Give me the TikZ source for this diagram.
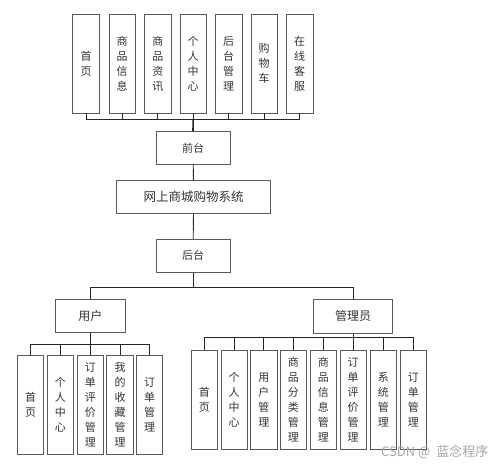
\documentclass[tikz,border=0pt]{standalone}
\usepackage{fontspec}
\newfontfamily\cjk{Noto Sans CJK SC}
\begin{document}
\begin{tikzpicture}[x=1pt,y=-1pt,
  every node/.style={font=\cjk\fontsize{11}{15}\selectfont, text=black!80},
  box/.style={draw=black!65, line width=0.9pt, inner sep=0pt},
  vbox/.style={box, minimum width=26.5pt, minimum height=99pt, align=center},
  hbox/.style={box, minimum width=74pt, minimum height=33pt},
  link/.style={draw=black!85, line width=0.9pt}
]
\useasboundingbox (0,0) rectangle (499,464);
% top row
\node[vbox] (t1) at (86,63.5) {首\\页};
\node[vbox] (t2) at (122.2,63.5) {商\\品\\信\\息};
\node[vbox] (t3) at (157.8,63.5) {商\\品\\资\\讯};
\node[vbox] (t4) at (193.2,63.5) {个\\人\\中\\心};
\node[vbox] (t5) at (228.7,63.5) {后\\台\\管\\理};
\node[vbox] (t6) at (264.2,63.5) {购\\物\\车};
\node[vbox] (t7) at (299.7,63.5) {在\\线\\客\\服};
\node[hbox] (qt) at (193,148) {前台};
\node[box, minimum width=154pt, minimum height=32.6pt, font=\cjk\fontsize{12.5}{15}\selectfont] (sys) at (193.7,197) {网上商城购物系统};
\node[hbox] (ht) at (193,255.7) {后台};
\node[box, minimum width=69.3pt, minimum height=33.4pt, font=\cjk\fontsize{12}{15}\selectfont] (yh) at (90.3,316) {用户};
\node[box, minimum width=79.4pt, minimum height=34pt, font=\cjk\fontsize{12}{15}\selectfont] (gly) at (353,316.3) {管理员};
% user children
\node[vbox] (u1) at (30.5,404.5) {首\\页};
\node[vbox] (u2) at (60.3,404.5) {个\\人\\中\\心};
\node[vbox] (u3) at (90.3,404.5) {订\\单\\评\\价\\管\\理};
\node[vbox] (u4) at (120,404.5) {我\\的\\收\\藏\\管\\理};
\node[vbox] (u5) at (149.5,404.5) {订\\单\\管\\理};
% admin children
\node[vbox] (a1) at (204.3,399.7) {首\\页};
\node[vbox] (a2) at (234.2,399.7) {个\\人\\中\\心};
\node[vbox] (a3) at (263.8,399.7) {用\\户\\管\\理};
\node[vbox] (a4) at (293.3,399.7) {商\\品\\分\\类\\管\\理};
\node[vbox] (a5) at (323.3,399.7) {商\\品\\信\\息\\管\\理};
\node[vbox] (a6) at (353.2,399.7) {订\\单\\评\\价\\管\\理};
\node[vbox] (a7) at (383.3,399.7) {系\\统\\管\\理};
\node[vbox] (a8) at (413.3,399.7) {订\\单\\管\\理};
% connectors
\coordinate (tb) at (193.2,119.3);
\foreach \n in {t1,t2,t3,t4,t5,t6,t7} \draw[link] (\n.south) |- (tb);
\draw[link, line width=1.6pt] (tb) -- (qt.north);
\draw[link] (qt) -- (sys);
\draw[link] (sys) -- (ht);
\coordinate (mb) at (193,287);
\draw[link] (ht.south) -- (mb);
\draw[link] (mb) -| (yh.north);
\draw[link] (mb) -| (gly.north);
\coordinate (ub) at (90.3,344);
\draw[link] (yh.south) -- (ub);
\foreach \n in {u1,u2,u3,u4,u5} \draw[link] (ub) -| (\n.north);
\coordinate (ab) at (353,337.7);
\draw[link] (gly.south) -- (ab);
\foreach \n in {a1,a2,a3,a4,a5,a6,a7,a8} \draw[link] (ab) -| (\n.north);
% watermark
\node[font=\cjk\fontsize{13}{15}\selectfont, text=black!35, anchor=west, inner sep=0pt] (wm) at (381,452) {CSDN @ \ 蓝念程序};
\end{tikzpicture}
\end{document}
